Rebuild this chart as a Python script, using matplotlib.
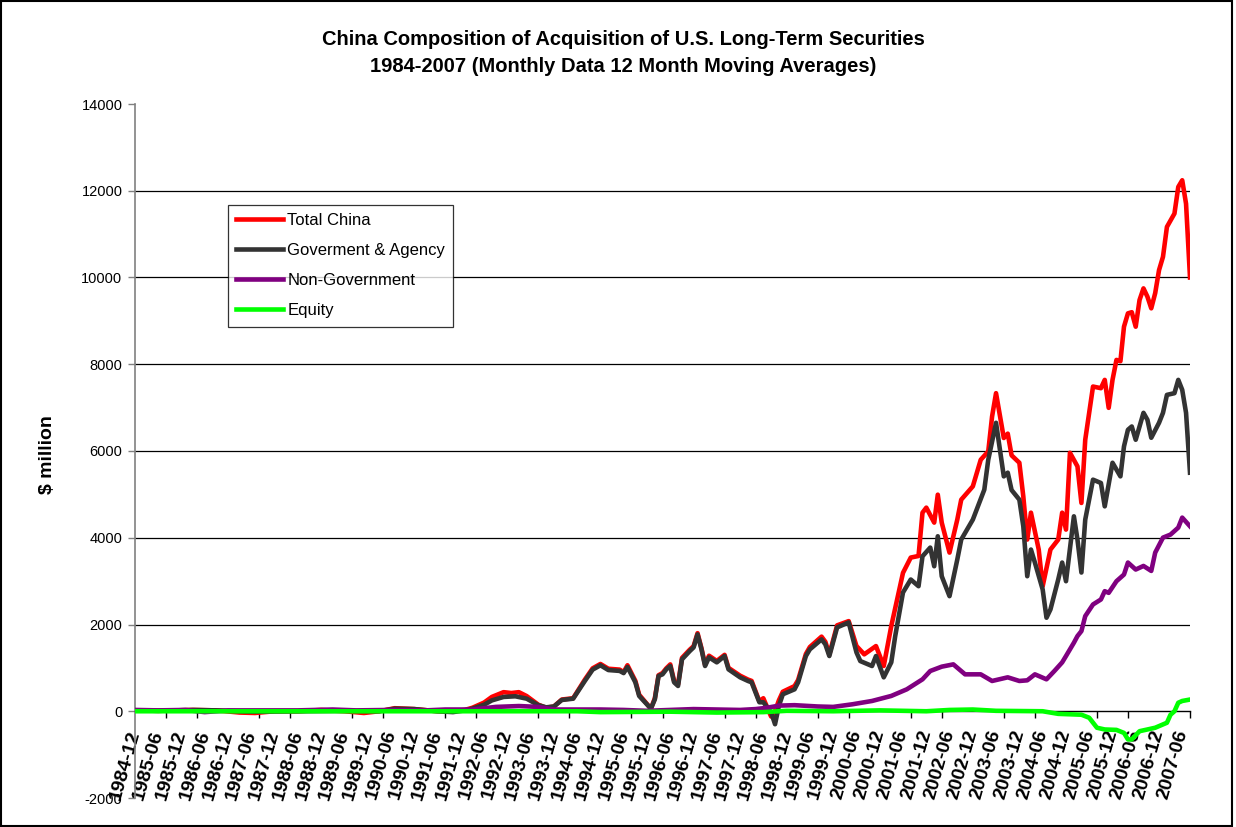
# China composition of acquisition of U.S. long-term securities,
# 12 month moving averages, Excel style line chart

import pandas as pd
import matplotlib
matplotlib.use("Agg")
import matplotlib.pyplot as plt
from matplotlib.patches import Rectangle

plt.rcParams['font.family'] = ['Liberation Sans', 'DejaVu Sans']
plt.rcParams['axes.unicode_minus'] = False

TITLE = ("China Composition of Acquisition of U.S. Long-Term Securities\n"
         "1984-2007 (Monthly Data 12 Month Moving Averages)")
Y_LABEL = r"\$ million"

SERIES_NAMES = ["Total China", "Goverment & Agency", "Non-Government", "Equity"]
SERIES_COLOURS = ["#ff0000", "#333333", "#800080", "#00ff00"]

# values ($ million), month of the reading -> value
TOTAL_DATES = [
    "1984-12", "1985-06", "1986-03", "1986-09", "1987-03", "1987-07", "1987-12",
    "1988-06", "1988-12", "1989-06", "1989-11", "1990-03", "1990-07", "1990-12",
    "1991-06", "1991-10", "1992-01", "1992-03", "1992-06", "1992-08", "1992-11",
    "1993-01", "1993-03", "1993-05", "1993-08", "1993-10", "1993-12", "1994-02",
    "1994-05", "1994-08", "1994-10", "1994-12", "1995-02", "1995-05", "1995-06",
    "1995-07", "1995-09", "1995-10", "1996-01", "1996-02", "1996-03", "1996-04",
    "1996-05", "1996-06", "1996-07", "1996-08", "1996-09", "1996-11", "1996-12",
    "1997-01", "1997-02", "1997-03", "1997-04", "1997-06", "1997-08", "1997-09",
    "1997-12", "1998-02", "1998-03", "1998-05", "1998-06", "1998-08", "1998-09",
    "1998-10", "1998-11", "1999-02", "1999-03", "1999-05", "1999-06", "1999-09",
    "1999-10", "1999-11", "2000-01", "2000-04", "2000-06", "2000-08", "2000-11",
    "2001-01", "2001-03", "2001-06", "2001-08", "2001-10", "2001-11", "2001-12",
    "2002-02", "2002-03", "2002-04", "2002-06", "2002-08", "2002-09", "2002-12",
    "2003-02", "2003-04", "2003-05", "2003-06", "2003-08", "2003-09", "2003-10",
    "2003-12", "2004-01", "2004-02", "2004-03", "2004-05", "2004-06", "2004-08",
    "2004-10", "2004-11", "2004-12", "2005-01", "2005-03", "2005-04", "2005-05",
    "2005-07", "2005-09", "2005-10", "2005-11", "2005-12", "2006-01", "2006-02",
    "2006-03", "2006-04", "2006-05", "2006-06", "2006-07", "2006-08", "2006-09",
    "2006-10", "2006-11", "2006-12", "2007-01", "2007-02", "2007-04", "2007-05",
    "2007-06", "2007-07", "2007-08"]
TOTAL_VALUES = [
    20, 10, 30, 20, -30, -40, 0,
    0, 30, 0, -40, 0, 70, 50,
    0, 0, 30, 80, 200, 330, 440,
    420, 440, 350, 150, 80, 110, 270,
    300, 730, 990, 1090, 980, 960, 900,
    1060, 700, 380, 60, 300, 830, 880,
    990, 1080, 700, 620, 1230, 1420, 1500,
    1800, 1450, 1070, 1280, 1160, 1300, 1000,
    820, 730, 700, 230, 300, -120, 0,
    250, 450, 580, 720, 1320, 1480, 1720,
    1600, 1310, 1980, 2078, 1503, 1312, 1503,
    1043, 1963, 3191, 3543, 3580, 4578, 4694,
    4349, 4993, 4349, 3658, 4418, 4878, 5185,
    5798, 5990, 6795, 7333, 6300, 6400, 5900,
    5729, 4954, 3958, 4578, 3728, 2883, 3728,
    3958, 4578, 4188, 5959, 5645, 4802, 6259,
    7486, 7448, 7640, 6995, 7640, 8100, 8070,
    8866, 9173, 9200, 8866, 9480, 9749, 9557,
    9289, 9641, 10170, 10477, 11167, 11474, 12088,
    12242, 11700, 10000]

GOV_DATES = [
    "1984-12", "1985-06", "1986-03", "1986-09", "1987-06", "1988-06", "1989-06",
    "1990-03", "1990-07", "1990-12", "1991-06", "1991-10", "1992-01", "1992-03",
    "1992-06", "1992-08", "1992-11", "1993-02", "1993-05", "1993-08", "1993-10",
    "1993-12", "1994-02", "1994-05", "1994-08", "1994-10", "1994-12", "1995-02",
    "1995-05", "1995-06", "1995-07", "1995-09", "1995-10", "1996-01", "1996-02",
    "1996-03", "1996-04", "1996-05", "1996-06", "1996-07", "1996-08", "1996-09",
    "1996-11", "1996-12", "1997-01", "1997-02", "1997-03", "1997-04", "1997-06",
    "1997-08", "1997-09", "1997-12", "1998-02", "1998-03", "1998-05", "1998-06",
    "1998-08", "1998-09", "1998-10", "1998-11", "1999-02", "1999-03", "1999-05",
    "1999-06", "1999-09", "1999-10", "1999-11", "2000-01", "2000-04", "2000-06",
    "2000-07", "2000-10", "2000-11", "2001-01", "2001-03", "2001-04", "2001-06",
    "2001-08", "2001-10", "2001-11", "2002-01", "2002-02", "2002-03", "2002-04",
    "2002-06", "2002-08", "2002-09", "2002-12", "2003-03", "2003-04", "2003-06",
    "2003-08", "2003-09", "2003-10", "2003-12", "2004-01", "2004-02", "2004-03",
    "2004-04", "2004-06", "2004-07", "2004-08", "2004-10", "2004-11", "2004-12",
    "2005-02", "2005-03", "2005-04", "2005-05", "2005-07", "2005-09", "2005-10",
    "2005-12", "2006-02", "2006-03", "2006-04", "2006-05", "2006-06", "2006-08",
    "2006-09", "2006-10", "2006-12", "2007-01", "2007-02", "2007-04", "2007-05",
    "2007-06", "2007-07", "2007-08"]
GOV_VALUES = [
    20, 10, 30, 20, -10, 0, 10,
    0, 60, 50, 0, -20, 20, 60,
    150, 250, 330, 345, 290, 140, 90,
    110, 260, 290, 700, 960, 1060, 950,
    930, 880, 1020, 667, 353, 60, 276,
    813, 851, 966, 1043, 667, 583, 1197,
    1388, 1472, 1772, 1427, 1043, 1243, 1127,
    1273, 966, 782, 698, 667, 207, 207,
    -23, -299, 122, 391, 506, 667, 1273,
    1427, 1657, 1542, 1273, 1933, 2048, 1357,
    1157, 1043, 1273, 782, 1127, 1733, 2738,
    3037, 2883, 3573, 3773, 3343, 4034, 3113,
    2653, 3497, 3958, 4418, 5108, 5798, 6650,
    5415, 5500, 5100, 4878, 4264, 3113, 3728,
    3428, 2807, 2156, 2347, 3037, 3428, 2998,
    4494, 3958, 3198, 4418, 5339, 5262, 4724,
    5729, 5415, 6105, 6489, 6565, 6259, 6880,
    6719, 6305, 6650, 6880, 7294, 7333, 7640,
    7409, 6880, 5500]

NONGOV_DATES = [
    "1984-12", "1985-06", "1986-01", "1986-06", "1986-12", "1988-06", "1989-03",
    "1989-09", "1990-06", "1991-03", "1991-08", "1992-03", "1992-09", "1993-03",
    "1993-08", "1993-12", "1994-12", "1995-06", "1995-12", "1996-06", "1996-12",
    "1997-06", "1997-12", "1998-04", "1998-07", "1998-10", "1999-02", "1999-08",
    "1999-12", "2000-05", "2000-10", "2001-03", "2001-07", "2001-11", "2002-01",
    "2002-04", "2002-07", "2002-10", "2003-02", "2003-05", "2003-09", "2003-12",
    "2004-02", "2004-04", "2004-07", "2004-09", "2004-11", "2004-12", "2005-02",
    "2005-03", "2005-04", "2005-05", "2005-07", "2005-09", "2005-10", "2005-11",
    "2006-01", "2006-03", "2006-04", "2006-06", "2006-08", "2006-10", "2006-11",
    "2007-01", "2007-03", "2007-05", "2007-06", "2007-08"]
NONGOV_VALUES = [
    30, 20, 30, -20, 20, 20, 40,
    20, 30, 20, 40, 40, 100, 120,
    100, 40, 40, 30, 10, 30, 50,
    40, 30, 50, 80, 130, 140, 110,
    100, 161, 237, 353, 506, 736, 928,
    1028, 1081, 851, 851, 698, 782, 698,
    713, 851, 736, 928, 1127, 1273, 1580,
    1733, 1848, 2193, 2462, 2577, 2768, 2730,
    2998, 3152, 3428, 3267, 3350, 3235, 3658,
    4003, 4073, 4234, 4464, 4264]

EQUITY_DATES = [
    "1984-12", "1994-06", "1994-12", "1996-06", "1997-06", "1998-06", "1998-12",
    "1999-12", "2000-12", "2001-12", "2002-06", "2002-12", "2003-06", "2004-06",
    "2004-10", "2005-04", "2005-06", "2005-08", "2005-10", "2006-01", "2006-03",
    "2006-04", "2006-05", "2006-07", "2006-09", "2006-11", "2007-02", "2007-03",
    "2007-04", "2007-05", "2007-06", "2007-08"]
EQUITY_VALUES = [
    0, 0, -20, -10, -30, -20, 10,
    0, 20, 0, 30, 40, 10, 0,
    -60, -80, -150, -380, -420, -430, -500,
    -650, -650, -460, -420, -380, -265, -80,
    0, 196, 237, 270]

Y_TICKS = list(range(-2000, 14001, 2000))

# category labels every 6 months, tick marks every 8 months (as Excel drew them)
LABEL_DATES = pd.date_range("1984-12-01", "2007-06-01", freq="6MS")
TICK_DATES = pd.date_range("1984-12-01", "2007-08-01", freq="8MS")

if __name__ == '__main__':
    fig = plt.figure(figsize=(12.36, 8.27), dpi=100)
    ax = fig.add_axes([135 / 1236, 1 - 798 / 827, 1055 / 1236, 694 / 827])

    series = [(TOTAL_DATES, TOTAL_VALUES), (GOV_DATES, GOV_VALUES),
              (NONGOV_DATES, NONGOV_VALUES), (EQUITY_DATES, EQUITY_VALUES)]
    for (dates, values), name, colour in zip(series, SERIES_NAMES, SERIES_COLOURS):
        ax.plot(pd.to_datetime(dates), values, color=colour, lw=3.3,
                label=name, solid_joinstyle='round', zorder=3)

    ax.set_xlim(pd.Timestamp("1984-12-01"), pd.Timestamp("2007-08-01"))
    ax.set_ylim(-2000, 14000)

    # y axis
    ax.set_yticks(Y_TICKS)
    ax.tick_params(axis='y', direction='out', length=5, width=1, color='#808080',
                   labelsize=10.5, pad=4)
    ax.spines['left'].set_color('#808080')
    ax.spines['left'].set_linewidth(1.2)
    ax.spines['right'].set_visible(False)
    ax.spines['top'].set_visible(False)

    # horizontal gridlines, none on the outer ticks
    ax.grid(True, axis='y', color='black', lw=0.9)
    for level, gl in zip(Y_TICKS, ax.yaxis.get_gridlines()):
        if level in (-2000, 0, 14000):
            gl.set_visible(False)
    ax.set_axisbelow(True)

    # x axis crosses at zero
    ax.spines['bottom'].set_position(('data', 0))
    ax.spines['bottom'].set_color('black')
    ax.spines['bottom'].set_linewidth(1.0)
    ax.set_xticks(LABEL_DATES)
    ax.set_xticklabels([d.strftime("%Y-%m") for d in LABEL_DATES],
                       rotation=74, ha='right', va='center',
                       rotation_mode='anchor', fontsize=14, fontweight='bold')
    ax.set_xticks(TICK_DATES, minor=True)
    ax.tick_params(axis='x', which='major', length=0, pad=14)
    ax.tick_params(axis='x', which='minor', direction='out', length=5,
                   width=1, color='black')

    fig.text(0.504, 1 - 53 / 827, TITLE, ha='center', va='center',
             fontsize=14.5, fontweight='bold', linespacing=1.5)
    fig.text(47 / 1236, 1 - 455 / 827, Y_LABEL, rotation=90, ha='center',
             va='center', fontsize=14, fontweight='bold')

    leg = ax.legend(loc='upper left', bbox_to_anchor=(228 / 1236, 1 - 205 / 827),
                    bbox_transform=fig.transFigure, fontsize=12, frameon=True,
                    fancybox=False, shadow=False, borderpad=0.5,
                    labelspacing=0.9, handlelength=2.8, handletextpad=0.25,
                    borderaxespad=0)
    leg.get_frame().set_edgecolor('black')
    leg.get_frame().set_linewidth(0.9)
    for line in leg.get_lines():
        line.set_linewidth(3.3)

    # chart area border
    fig.patches.append(Rectangle((1 / 1236, 1 / 827), 1231 / 1236, 825 / 827,
                                 transform=fig.transFigure, fill=False,
                                 edgecolor='black', lw=1.5))

    plt.savefig("out.png", dpi=100)

# EOF
